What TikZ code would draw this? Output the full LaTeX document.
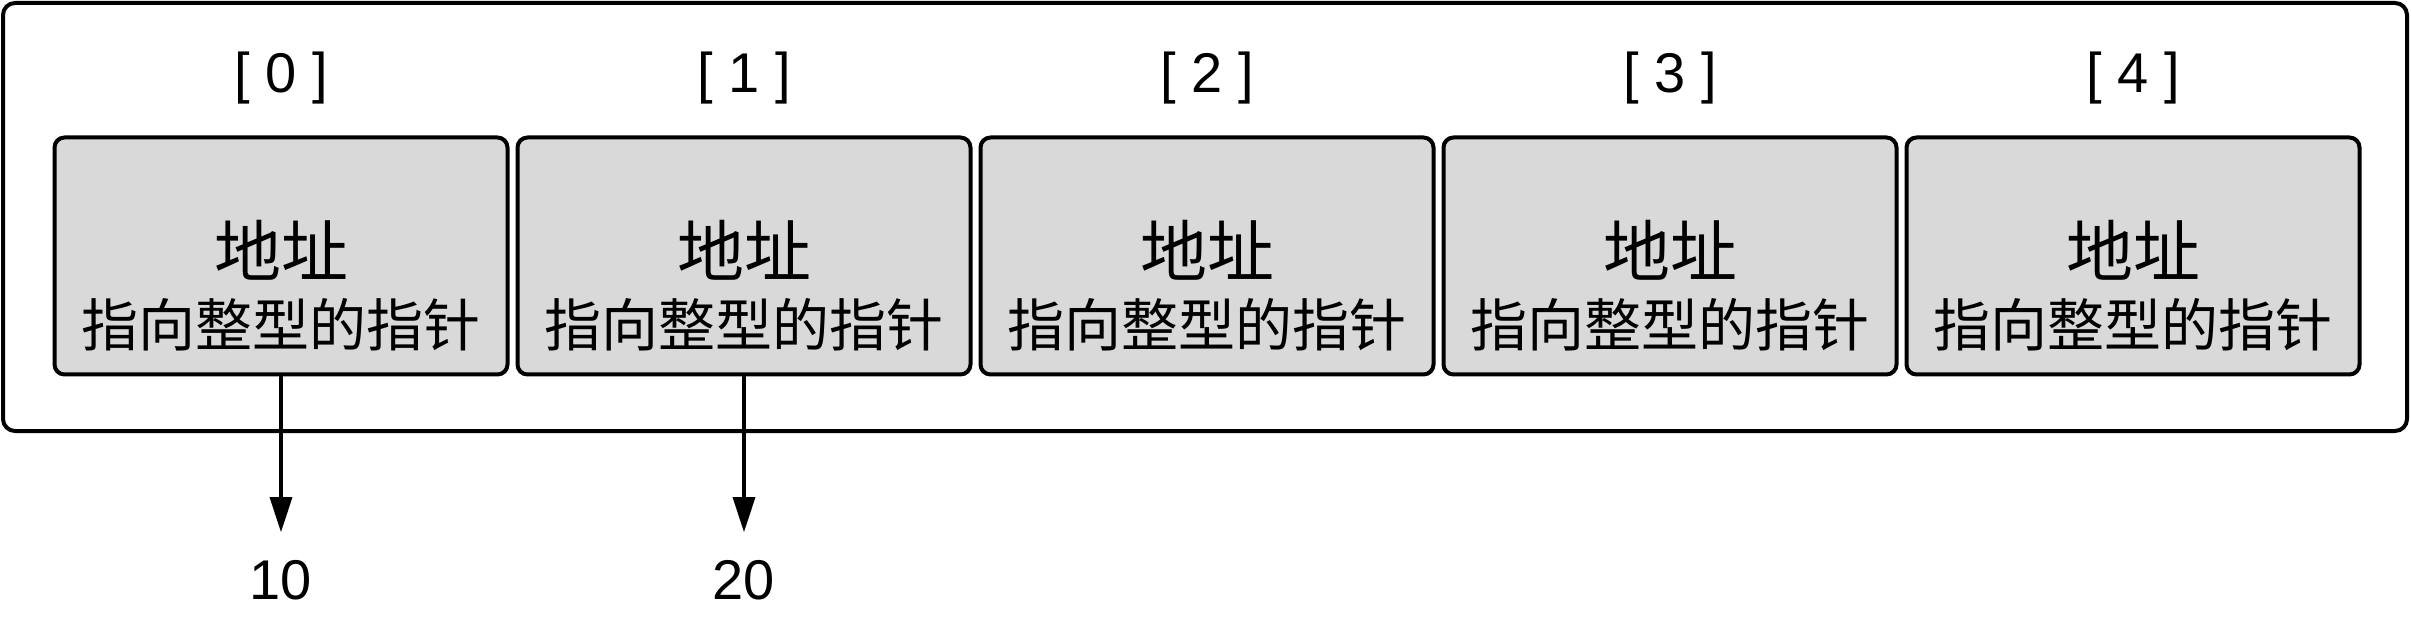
\documentclass[tikz,border=0pt]{standalone}
\usepackage{fontspec}
\setmainfont{Liberation Sans}
\newfontfamily\cjk{Noto Sans CJK SC}
\usetikzlibrary{arrows.meta}
\definecolor{cellgray}{HTML}{D9D9D9}

\begin{document}
\begin{tikzpicture}[x=0.5pt,y=-0.5pt,
    cellbox/.style={draw,line width=2pt,fill=cellgray,rounded corners=5pt,
      minimum width=226.5pt,minimum height=118.5pt,inner sep=0pt},
    idx/.style={font=\fontsize{28pt}{32pt}\selectfont,inner sep=0pt},
    val/.style={font=\fontsize{28pt}{32pt}\selectfont,inner sep=0pt,outer sep=14pt},
    ptr/.style={line width=1.7pt,-{Triangle[length=17.5pt,width=11pt]}}]
  \useasboundingbox (0,0) rectangle (2411,620);
  % outer frame of the array
  \draw[line width=2pt,rounded corners=6pt] (3,3) rectangle (2407,431);
  % the five cells
  \foreach \i in {0,...,4} {
    \node[idx] (idx\i) at (281+463*\i,78) {[ \i{} ]};
    \node[cellbox] (cell\i) at (281+463*\i,256) {};
    \node[font=\cjk\fontsize{33.5pt}{38pt}\selectfont,inner sep=0pt] (addr\i) at (281+463*\i,250) {地址};
    \node[font=\cjk\fontsize{28.5pt}{32pt}\selectfont,inner sep=0pt] (desc\i) at (281+463*\i,325) {指向整型的指针};
  }
  % pointed-to values
  \node[val] (val0) at (281,580) {10};
  \node[val] (val1) at (744,580) {20};
  \draw[ptr] (cell0) -- (val0);
  \draw[ptr] (cell1) -- (val1);
\end{tikzpicture}
\end{document}
